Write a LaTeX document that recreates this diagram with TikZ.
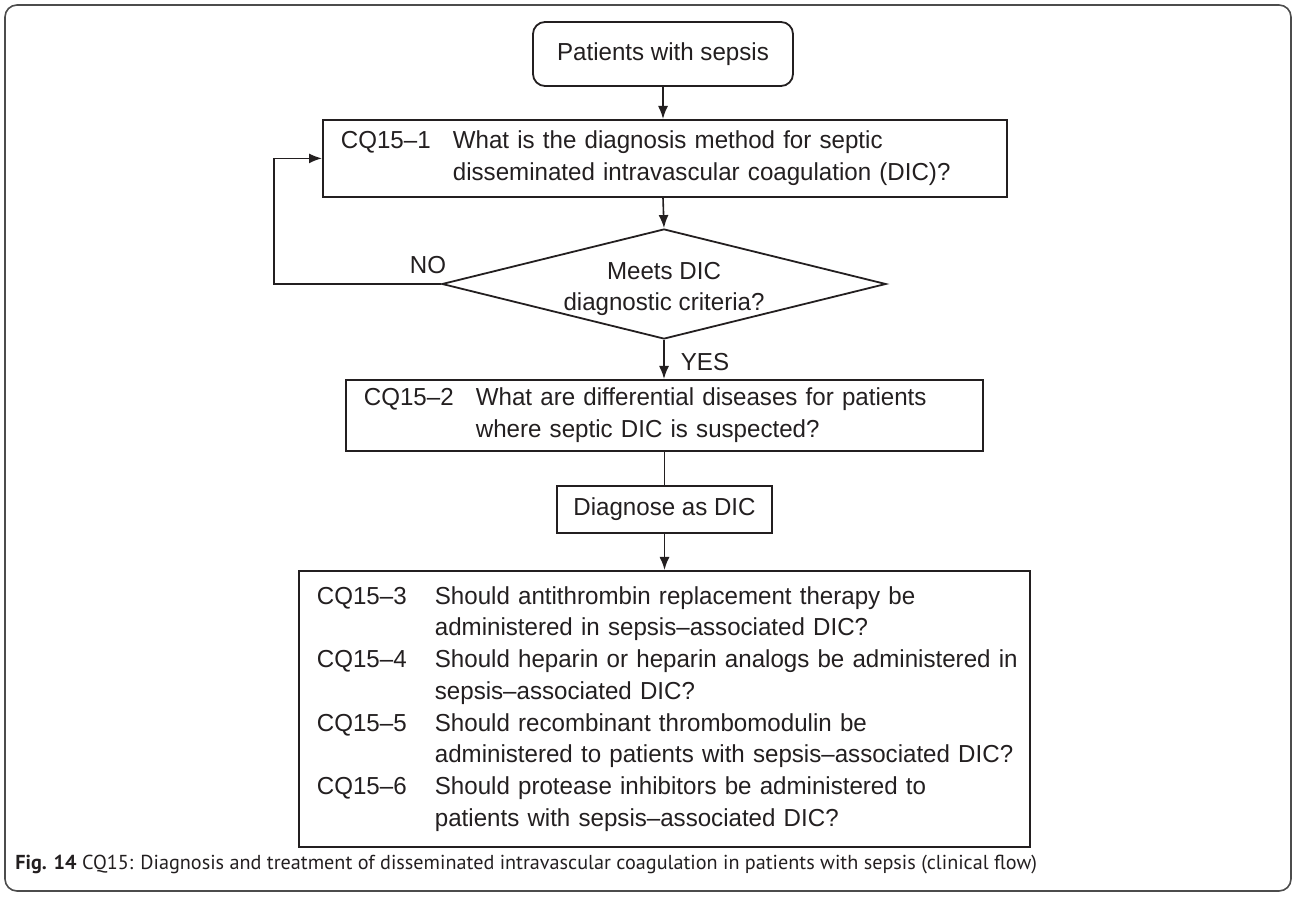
\documentclass[tikz,border=0pt]{standalone}
\usepackage{fontspec}
\setmainfont[FakeStretch=0.98]{Liberation Sans}
\newfontfamily\capfont{PT Sans}
\usetikzlibrary{shapes.geometric,arrows.meta}
\definecolor{ink}{HTML}{231F20}
\begin{document}
\begin{tikzpicture}[x=0.5pt,y=-0.5pt,
  box/.style={draw=ink, line width=0.9pt, inner ysep=0pt, text=ink},
  rbox/.style={box, rounded corners=6pt},
  arr/.style={-{Latex[length=6.5pt,width=5pt]}, line width=0.8pt, draw=ink},
  line/.style={line width=0.8pt, draw=ink},
  main/.style={font=\fontsize{12.3}{16}\selectfont, text=ink},
  frame/.style={draw=black!70, line width=0.8pt, rounded corners=6pt}]
\useasboundingbox (0,0) rectangle (1296,897);
\draw[frame] (5,5) rectangle (1291,891);

\node[rbox, main, minimum width=130pt, minimum height=32pt, inner xsep=0pt] (start) at (663,54) {Patients with sepsis};

\node[box, main, anchor=north west, inner xsep=9pt, text width=324pt, minimum height=38.5pt, align=left] (q1) at (322,119)
 {\begin{tabular}{@{}p{56pt}@{}l@{}}CQ15–1 & What is the diagnosis method for septic\\ & disseminated intravascular coagulation (DIC)?\end{tabular}};

\node[draw=ink, line width=0.9pt, diamond, shape aspect=4.09, inner sep=0pt, minimum width=222pt, minimum height=55pt] (dia) at (664,284) {};
\node[main, align=center, font=\fontsize{12.3}{15.5}\selectfont, inner sep=0pt] (diatext) at (664,289) {Meets DIC\\diagnostic criteria?};

\node[box, main, anchor=north west, inner xsep=9pt, text width=300.5pt, minimum height=35.5pt, align=left] (q2) at (345,379)
 {\begin{tabular}{@{}p{56pt}@{}l@{}}CQ15–2 & What are differential diseases for patients\\ & where septic DIC is suspected?\end{tabular}};

\node[box, main, minimum width=107.5pt, minimum height=23.5pt, inner xsep=0pt] (diag) at (664.5,509.5) {Diagnose as DIC};

\node[box, anchor=north west, inner xsep=9pt, text width=347.5pt, minimum height=138pt, align=left,
  font=\fontsize{12.3}{15.85}\selectfont, text=ink] (q3) at (298,570)
 {\begin{tabular}{@{}p{59pt}@{}l@{}}CQ15–3 & Should antithrombin replacement therapy be\\
  & administered in sepsis–associated DIC?\\
  CQ15–4 & Should heparin or heparin analogs be administered in\\
  & sepsis–associated DIC?\\
  CQ15–5 & Should recombinant thrombomodulin be\\
  & administered to patients with sepsis–associated DIC?\\
  CQ15–6 & Should protease inhibitors be administered to\\
  & patients with sepsis–associated DIC?\end{tabular}};

\coordinate (loop) at (274,284);
\node[main, anchor=center] (no) at (428,265) {NO};
\node[main, anchor=center] (yes) at (705,362) {YES};

\draw[arr] (start.south) -- (start.south |- q1.north);
\draw[arr] (start.south |- q1.south) -- (dia.north);
\draw[arr] (dia.west) -- (loop) |- (q1.west);
\draw[arr] (dia.south) -- (dia.south |- q2.north);
\draw[line] (diag.north |- q2.south) -- (diag.north);
\draw[arr] (diag.south) -- (diag.south |- q3.north);

\node[anchor=base west, inner sep=0pt, text=ink, font=\capfont\fontsize{10.1}{12}\selectfont] (cap) at (15,869)
 {\textbf{Fig. 14} CQ15: Diagnosis and treatment of disseminated intravascular coagulation in patients with sepsis (clinical flow)};
\end{tikzpicture}
\end{document}
